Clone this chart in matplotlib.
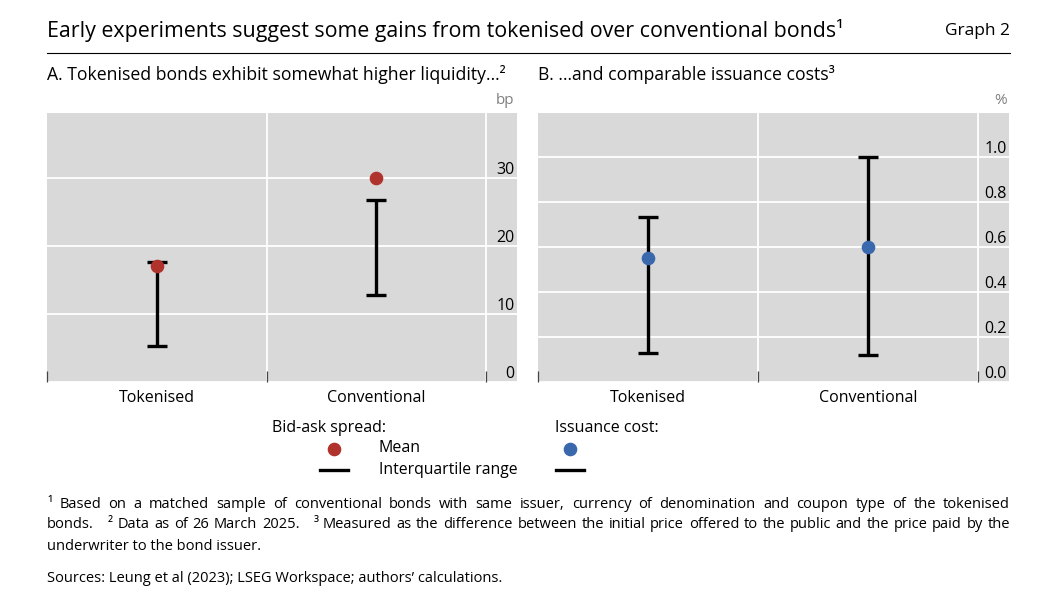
import matplotlib
matplotlib.use('Agg')
import matplotlib.pyplot as plt
import matplotlib.transforms as mtransforms
from matplotlib.lines import Line2D
import numpy as np

plt.rcParams['font.family'] = ['Open Sans', 'DejaVu Sans']

# dati
categorie = ['Tokenised', 'Conventional']

# A. bid-ask spread (bp)
spread_media = [17.1, 30.0]
spread_q1 = [5.3, 12.8]
spread_q3 = [17.6, 26.8]
spread_ticks = [0, 10, 20, 30]

# B. issuance cost (%)
costo_media = [0.55, 0.60]
costo_q1 = [0.13, 0.12]
costo_q3 = [0.735, 1.0]
costo_ticks = [0.0, 0.2, 0.4, 0.6, 0.8, 1.0]

ROSSO = '#B0322D'
BLU = '#3A68AC'
GRIGIO = '#D9D9D9'

W, H = 1043, 596
fig = plt.figure(figsize=(W / 100, H / 100), dpi=100)


def fx(x):
    return x / W


def fy(y):
    return 1 - y / H


def pannello(rect, media, q1, q3, ticks, ylim, colore, unita, fmt):
    ax = fig.add_axes(rect)
    ax.set_facecolor(GRIGIO)
    for s in ax.spines.values():
        s.set_visible(False)
    x = np.arange(len(categorie))
    q1 = np.array(q1)
    q3 = np.array(q3)
    ax.errorbar(x, (q1 + q3) / 2, yerr=(q3 - q1) / 2, fmt='none', ecolor='black',
                elinewidth=2.4, capsize=7.5, capthick=2.4, zorder=3)
    ax.plot(x, media, 'o', color=colore, markersize=8.8, zorder=4, linestyle='none')
    ax.set_xlim(-0.5, 1.64)
    ax.set_ylim(*ylim)
    # griglia bianca
    for t in ticks:
        ax.axhline(t, color='white', lw=1.3, zorder=1)
    for v in [0.5, 1.5]:
        ax.axvline(v, color='white', lw=1.3, zorder=1)
    ax.set_yticks([])
    ax.set_xticks([-0.5, 0.5, 1.5])
    ax.set_xticklabels([])
    ax.tick_params(axis='x', direction='in', length=8, width=0.9, color='#444444')
    for xi, c in zip(x, categorie):
        ax.text(xi, -0.03, c, transform=mtransforms.blended_transform_factory(ax.transData, ax.transAxes),
                ha='center', va='top', fontsize=11.5)
    tr = mtransforms.blended_transform_factory(ax.transAxes, ax.transData)
    for t in ticks:
        ax.text(0.995, t, fmt.format(t), transform=tr, ha='right', va='bottom', fontsize=11.5)
    ax.text(0.995, 1.02, unita, transform=ax.transAxes, ha='right', va='bottom',
            fontsize=11, color='#808080')
    return ax


top, bot = 113, 382
axA = pannello([fx(47), fy(bot), fx(517 - 47), (bot - top) / H], spread_media, spread_q1, spread_q3,
               spread_ticks, (0, 39.6), ROSSO, 'bp', '{:.0f}')
axB = pannello([fx(538), fy(bot), fx(1009 - 538), (bot - top) / H], costo_media, costo_q1, costo_q3,
               costo_ticks, (0, 1.195), BLU, '%', '{:.1f}')

# titoli
fig.text(fx(47), fy(30), 'Early experiments suggest some gains from tokenised over conventional bonds\u00b9',
         fontsize=15.4, va='center', ha='left')
fig.text(fx(1010), fy(31), 'Graph 2', fontsize=12.5, va='center', ha='right')
fig.add_artist(Line2D([fx(47), fx(1010)], [fy(53), fy(53)], color='black', lw=0.8))
fig.text(fx(47), fy(74), 'A. Tokenised bonds exhibit somewhat higher liquidity\u2026\u00b2', fontsize=12.7,
         va='center', ha='left')
fig.text(fx(538), fy(74), 'B. \u2026and comparable issuance costs\u00b3', fontsize=12.7, va='center', ha='left')

# legenda
fig.text(fx(272), fy(428), 'Bid-ask spread:', fontsize=11.5, va='center')
fig.text(fx(555), fy(428), 'Issuance cost:', fontsize=11.5, va='center')
fig.text(fx(379), fy(448), 'Mean', fontsize=11.5, va='center')
fig.text(fx(379), fy(470), 'Interquartile range', fontsize=11.3, va='center')
for xc, col in [(334, ROSSO), (570, BLU)]:
    fig.add_artist(Line2D([fx(xc)], [fy(449)], marker='o', color=col, markersize=8.8, linestyle='none'))
    fig.add_artist(Line2D([fx(xc - 14), fx(xc + 14)], [fy(470), fy(470)], color='black', lw=2.4))

# note giustificate
r = fig.canvas.get_renderer()


def giustifica(riga, y, x0=47, x1=1010, **kw):
    parole = riga.split(' ')
    arts = [fig.text(0, fy(y), p, va='center', **kw) for p in parole]
    larg = [a.get_window_extent(r).width for a in arts]
    gap = (x1 - x0 - sum(larg)) / (len(parole) - 1)
    x = x0
    for a, l in zip(arts, larg):
        a.set_x(fx(x))
        x += l + gap


nota_kw = dict(fontsize=10.5)
giustifica('\u00b9 Based on a matched sample of conventional bonds with same issuer, currency of denomination '
           'and coupon type of the tokenised', 505, **nota_kw)
giustifica('bonds.   \u00b2 Data as of 26 March 2025.   \u00b3 Measured as the difference between the initial '
           'price offered to the public and the price paid by the', 525, **nota_kw)
fig.text(fx(47), fy(546), 'underwriter to the bond issuer.', va='center', **nota_kw)
fig.text(fx(47), fy(578), 'Sources: Leung et al (2023); LSEG Workspace; authors\u2019 calculations.',
         va='center', **nota_kw)

fig.savefig('out.png', dpi=100)
